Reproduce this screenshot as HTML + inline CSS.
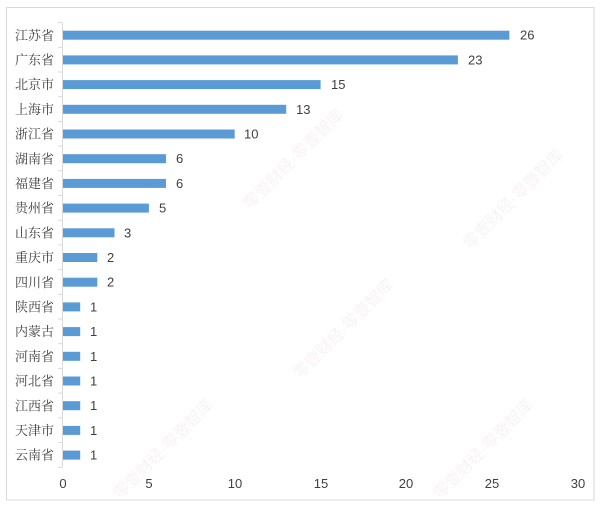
<!DOCTYPE html>
<html><head><meta charset="utf-8"><style>
html,body{margin:0;padding:0;background:#fff;}
svg{display:block;}
</style></head><body>
<svg width="600" height="508" viewBox="0 0 600 508" xmlns="http://www.w3.org/2000/svg">
<rect x="0" y="0" width="600" height="508" fill="#fff"/>
<rect x="6.5" y="7.5" width="587.5" height="492.5" fill="none" stroke="#d9d9d9" stroke-width="1"/>
<g font-family="'Liberation Sans','Noto Sans CJK SC',sans-serif" font-size="16" fill="#f8f3f3">
<text transform="translate(120,500) rotate(-45)">零壹财经·零壹智库</text>
<text transform="translate(300,380) rotate(-45)">零壹财经·零壹智库</text>
<text transform="translate(470,250) rotate(-45)">零壹财经·零壹智库</text>
<text transform="translate(250,210) rotate(-45)">零壹财经·零壹智库</text>
<text transform="translate(440,500) rotate(-45)">零壹财经·零壹智库</text>
</g>
<g stroke="#d9d9d9" stroke-width="1">
<line x1="62.5" y1="22.6" x2="62.5" y2="467.4"/>
<line x1="58" y1="22.6" x2="62.5" y2="22.6"/>
<line x1="58" y1="47.3" x2="62.5" y2="47.3"/>
<line x1="58" y1="72.0" x2="62.5" y2="72.0"/>
<line x1="58" y1="96.7" x2="62.5" y2="96.7"/>
<line x1="58" y1="121.4" x2="62.5" y2="121.4"/>
<line x1="58" y1="146.1" x2="62.5" y2="146.1"/>
<line x1="58" y1="170.8" x2="62.5" y2="170.8"/>
<line x1="58" y1="195.5" x2="62.5" y2="195.5"/>
<line x1="58" y1="220.2" x2="62.5" y2="220.2"/>
<line x1="58" y1="244.9" x2="62.5" y2="244.9"/>
<line x1="58" y1="269.6" x2="62.5" y2="269.6"/>
<line x1="58" y1="294.3" x2="62.5" y2="294.3"/>
<line x1="58" y1="319.0" x2="62.5" y2="319.0"/>
<line x1="58" y1="343.7" x2="62.5" y2="343.7"/>
<line x1="58" y1="368.4" x2="62.5" y2="368.4"/>
<line x1="58" y1="393.1" x2="62.5" y2="393.1"/>
<line x1="58" y1="417.8" x2="62.5" y2="417.8"/>
<line x1="58" y1="442.5" x2="62.5" y2="442.5"/>
<line x1="58" y1="467.4" x2="62.5" y2="467.4"/>
</g>
<g fill="#5b9bd5">
<rect x="63" y="30.7" width="446.4" height="9"/>
<rect x="63" y="55.4" width="394.9" height="9"/>
<rect x="63" y="80.1" width="257.6" height="9"/>
<rect x="63" y="104.8" width="223.2" height="9"/>
<rect x="63" y="129.5" width="171.7" height="9"/>
<rect x="63" y="154.2" width="103.0" height="9"/>
<rect x="63" y="178.9" width="103.0" height="9"/>
<rect x="63" y="203.6" width="85.9" height="9"/>
<rect x="63" y="228.3" width="51.5" height="9"/>
<rect x="63" y="253.0" width="34.3" height="9"/>
<rect x="63" y="277.7" width="34.3" height="9"/>
<rect x="63" y="302.4" width="17.2" height="9"/>
<rect x="63" y="327.1" width="17.2" height="9"/>
<rect x="63" y="351.8" width="17.2" height="9"/>
<rect x="63" y="376.5" width="17.2" height="9"/>
<rect x="63" y="401.2" width="17.2" height="9"/>
<rect x="63" y="425.9" width="17.2" height="9"/>
<rect x="63" y="450.6" width="17.2" height="9"/>
</g>
<g font-family="'Liberation Sans',sans-serif" font-size="13" fill="#404040" text-anchor="middle">
<text x="63" y="488">0</text>
<text x="149" y="488">5</text>
<text x="235" y="488">10</text>
<text x="321" y="488">15</text>
<text x="406" y="488">20</text>
<text x="492" y="488">25</text>
<text x="578" y="488">30</text>
</g>
<g font-family="'Liberation Sans',sans-serif" font-size="13" fill="#404040">
<text x="520" y="39.7">26</text>
<text x="468" y="64.4">23</text>
<text x="331" y="89.1">15</text>
<text x="296" y="113.8">13</text>
<text x="244" y="138.5">10</text>
<text x="176" y="163.2">6</text>
<text x="176" y="187.9">6</text>
<text x="159" y="212.6">5</text>
<text x="124" y="237.3">3</text>
<text x="107" y="262.0">2</text>
<text x="107" y="286.7">2</text>
<text x="90" y="311.4">1</text>
<text x="90" y="336.1">1</text>
<text x="90" y="360.8">1</text>
<text x="90" y="385.5">1</text>
<text x="90" y="410.2">1</text>
<text x="90" y="434.9">1</text>
<text x="90" y="459.6">1</text>
</g>
<g font-family="'Noto Serif CJK SC','Liberation Serif',serif" font-size="13" fill="#404040" text-anchor="end">
<text x="54" y="39.8">江苏省</text>
<text x="54" y="64.5">广东省</text>
<text x="54" y="89.2">北京市</text>
<text x="54" y="113.9">上海市</text>
<text x="54" y="138.6">浙江省</text>
<text x="54" y="163.3">湖南省</text>
<text x="54" y="188.0">福建省</text>
<text x="54" y="212.7">贵州省</text>
<text x="54" y="237.4">山东省</text>
<text x="54" y="262.1">重庆市</text>
<text x="54" y="286.8">四川省</text>
<text x="54" y="311.5">陕西省</text>
<text x="54" y="336.2">内蒙古</text>
<text x="54" y="360.9">河南省</text>
<text x="54" y="385.6">河北省</text>
<text x="54" y="410.3">江西省</text>
<text x="54" y="435.0">天津市</text>
<text x="54" y="459.7">云南省</text>
</g>
</svg>
</body></html>
